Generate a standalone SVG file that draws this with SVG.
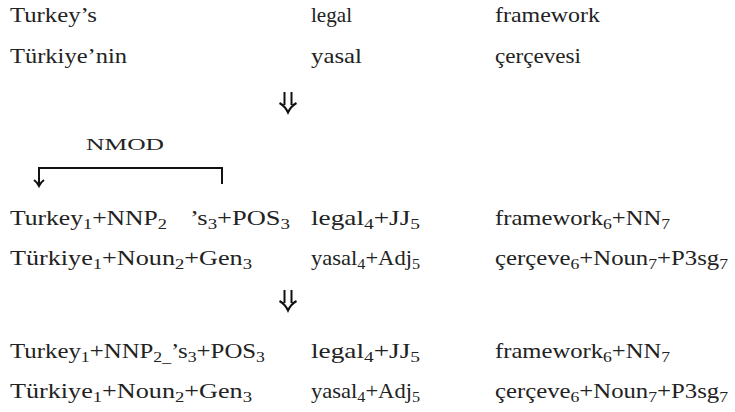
<svg xmlns="http://www.w3.org/2000/svg" width="735" height="412" viewBox="0 0 735 412">
<style>
text{font-family:'Liberation Serif','DejaVu Serif','Times New Roman',serif;font-size:21px;fill:#222}
.lbl{font-size:17px}
.s{font-size:15px}
.ln{fill:none;stroke:#111;stroke-width:2;stroke-linecap:butt}
</style>
<rect width="735" height="412" fill="#fff"/>
<g id="row1">
<text x="10" y="22" textLength="87" lengthAdjust="spacingAndGlyphs">Turkey’s</text>
<text x="311" y="22" textLength="41" lengthAdjust="spacingAndGlyphs">legal</text>
<text x="495" y="22" textLength="105" lengthAdjust="spacingAndGlyphs">framework</text>
</g>
<g id="row2">
<text x="10" y="63" textLength="117" lengthAdjust="spacingAndGlyphs">Türkiye’nin</text>
<text x="311" y="63" textLength="51" lengthAdjust="spacingAndGlyphs">yasal</text>
<text x="495" y="63" textLength="86" lengthAdjust="spacingAndGlyphs">çerçevesi</text>
</g>
<g id="arrow1"><path class="ln" d="M284.5,92V105M291.5,92V105M279.5,103Q285,106 288,112.5Q291,106 296.5,103"/></g>
<g id="nmod">
<text class="lbl" x="125" y="150" text-anchor="middle" textLength="78" lengthAdjust="spacingAndGlyphs">NMOD</text>
</g>
<g id="connectors">
<path class="ln" d="M222,184V168H39V184"/>
<path class="ln" d="M34,180Q37,182 39,186Q41,182 44,180"/>
</g>
<g id="row3">
<text x="10" y="225" textLength="157" lengthAdjust="spacingAndGlyphs">Turkey<tspan class="s" dy="4">1</tspan><tspan dy="-4">+NNP</tspan><tspan class="s" dy="4">2</tspan></text>
<text x="190" y="225" textLength="100" lengthAdjust="spacingAndGlyphs">’s<tspan class="s" dy="4">3</tspan><tspan dy="-4">+POS</tspan><tspan class="s" dy="4">3</tspan></text>
<text x="311" y="225" textLength="109" lengthAdjust="spacingAndGlyphs">legal<tspan class="s" dy="4">4</tspan><tspan dy="-4">+JJ</tspan><tspan class="s" dy="4">5</tspan></text>
<text x="495" y="225" textLength="175" lengthAdjust="spacingAndGlyphs">framework<tspan class="s" dy="4">6</tspan><tspan dy="-4">+NN</tspan><tspan class="s" dy="4">7</tspan></text>
</g>
<g id="row4">
<text x="10" y="265" textLength="242" lengthAdjust="spacingAndGlyphs">Türkiye<tspan class="s" dy="4">1</tspan><tspan dy="-4">+Noun</tspan><tspan class="s" dy="4">2</tspan><tspan dy="-4">+Gen</tspan><tspan class="s" dy="4">3</tspan></text>
<text x="311" y="265" textLength="109" lengthAdjust="spacingAndGlyphs">yasal<tspan class="s" dy="4">4</tspan><tspan dy="-4">+Adj</tspan><tspan class="s" dy="4">5</tspan></text>
<text x="495" y="265" textLength="233" lengthAdjust="spacingAndGlyphs">çerçeve<tspan class="s" dy="4">6</tspan><tspan dy="-4">+Noun</tspan><tspan class="s" dy="4">7</tspan><tspan dy="-4">+P3sg</tspan><tspan class="s" dy="4">7</tspan></text>
</g>
<g id="arrow2"><path class="ln" d="M284.5,290V303M291.5,290V303M279.5,301Q285,304 288,310.5Q291,304 296.5,301"/></g>
<g id="row5">
<text x="10" y="358" textLength="255" lengthAdjust="spacingAndGlyphs">Turkey<tspan class="s" dy="4">1</tspan><tspan dy="-4">+NNP</tspan><tspan class="s" dy="4">2_</tspan><tspan dy="-4">’s</tspan><tspan class="s" dy="4">3</tspan><tspan dy="-4">+POS</tspan><tspan class="s" dy="4">3</tspan></text>
<text x="311" y="358" textLength="109" lengthAdjust="spacingAndGlyphs">legal<tspan class="s" dy="4">4</tspan><tspan dy="-4">+JJ</tspan><tspan class="s" dy="4">5</tspan></text>
<text x="495" y="358" textLength="175" lengthAdjust="spacingAndGlyphs">framework<tspan class="s" dy="4">6</tspan><tspan dy="-4">+NN</tspan><tspan class="s" dy="4">7</tspan></text>
</g>
<g id="row6">
<text x="10" y="398" textLength="242" lengthAdjust="spacingAndGlyphs">Türkiye<tspan class="s" dy="4">1</tspan><tspan dy="-4">+Noun</tspan><tspan class="s" dy="4">2</tspan><tspan dy="-4">+Gen</tspan><tspan class="s" dy="4">3</tspan></text>
<text x="311" y="398" textLength="109" lengthAdjust="spacingAndGlyphs">yasal<tspan class="s" dy="4">4</tspan><tspan dy="-4">+Adj</tspan><tspan class="s" dy="4">5</tspan></text>
<text x="495" y="398" textLength="233" lengthAdjust="spacingAndGlyphs">çerçeve<tspan class="s" dy="4">6</tspan><tspan dy="-4">+Noun</tspan><tspan class="s" dy="4">7</tspan><tspan dy="-4">+P3sg</tspan><tspan class="s" dy="4">7</tspan></text>
</g>
</svg>
